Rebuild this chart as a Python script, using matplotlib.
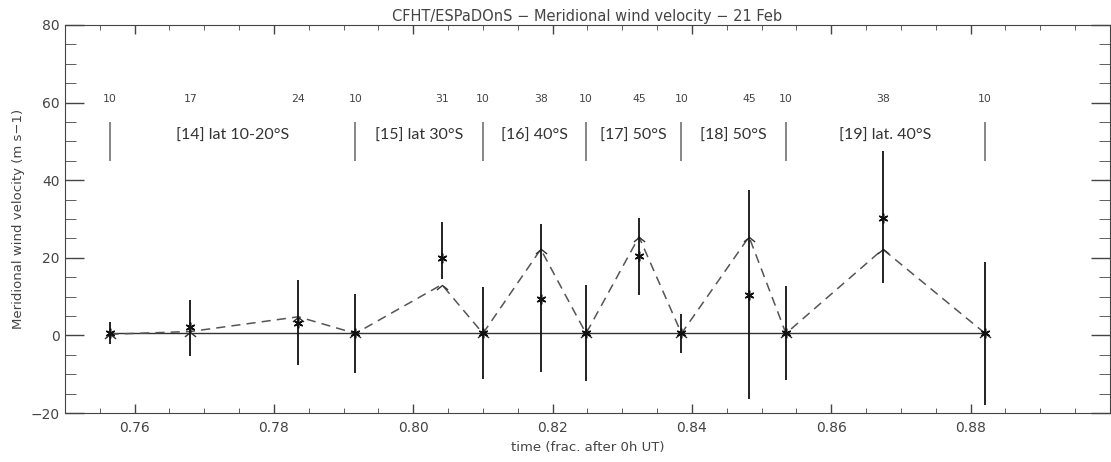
import numpy as np
import matplotlib.pyplot as plt
from matplotlib.ticker import MultipleLocator

# observation times (fraction of day after 0h UT)
t = [0.7564, 0.7680, 0.7835, 0.7917, 0.8041, 0.8100, 0.8183,
     0.8248, 0.8324, 0.8385, 0.8482, 0.8535, 0.8674, 0.8821]
# measured meridional wind and error bar ends
obs = [0.5, 2.1, 3.3, 0.5, 20.0, 0.5, 9.5, 0.5, 20.4, 0.5, 10.3, 0.5, 30.3, 0.5]
bar_lo = [-2.3, -5.2, -7.7, -9.8, 14.6, -11.2, -9.5, -11.8, 10.3, -4.6, -16.3, -11.5, 13.6, -18.0]
bar_hi = [3.4, 9.0, 14.3, 10.7, 29.3, 12.5, 28.6, 13.0, 30.3, 5.4, 37.5, 12.7, 47.5, 19.0]
# model (dashed)
model = [0.3, 1.0, 4.8, 0.5, 13.1, 0.5, 22.2, 0.5, 25.4, 0.5, 25.4, 0.5, 22.2, 0.5]
# numbers written above each point
nums = ['10', '17', '24', '10', '31', '10', '38', '10', '45', '10', '45', '10', '38', '10']
# sequence separators and names
sep_idx = [0, 3, 5, 7, 9, 11, 13]
regions = ['[14] lat 10-20°S', '[15] lat 30°S', '[16] 40°S', '[17] 50°S',
           '[18] 50°S', '[19] lat. 40°S']
base = 0.5

fig = plt.figure(figsize=(11.11, 4.62), dpi=100)
ax = fig.add_axes([0.0585, 0.106, 0.9405, 0.84])

txt = '#444444'
ax.hlines(base, t[0], t[-1], color='#333333', lw=1.0)
ax.plot(t, model, color='#555555', lw=1.1, dashes=(6, 4))
caret = [(-1, -0.8), (0, 0), (1, -0.8)]
ax.plot(t, model, ls='none', marker=caret, ms=8, mfc='none', mec='#333333', mew=1.0)

lo = np.array(obs) - np.array(bar_lo)
hi = np.array(bar_hi) - np.array(obs)
ax.errorbar(t, obs, yerr=[lo, hi], fmt='none', ecolor='#111111', elinewidth=1.3, capsize=0)
ax.plot(t, obs, ls='none', marker=(6, 2, 0), ms=7, mec='#111111', mew=1.1)

for x, n in zip(t, nums):
    ax.text(x, 61, n, ha='center', va='center', fontsize=7.8, color=txt)
seps = [t[i] for i in sep_idx]
ax.vlines(seps, 45, 55, color='#666666', lw=1.1)
for k, r in enumerate(regions):
    ax.text((seps[k] + seps[k + 1]) / 2, 51.5, r, ha='center', va='center',
            fontsize=11.5, family='Lato', color='#333333')

ax.set_xlim(0.75, 0.90)
ax.set_ylim(-20, 80)
ax.xaxis.set_major_locator(MultipleLocator(0.02))
ax.xaxis.set_minor_locator(MultipleLocator(0.005))
ax.yaxis.set_major_locator(MultipleLocator(20))
ax.yaxis.set_minor_locator(MultipleLocator(5))
ax.set_xticks([0.76, 0.78, 0.80, 0.82, 0.84, 0.86, 0.88])
ax.set_xticklabels(['0.76', '0.78', '0.80', '0.82', '0.84', '0.86', '0.88'])
ax.tick_params(axis='x', which='major', direction='in', length=6.5, top=True, width=1,
               color='#444444', labelsize=10, labelcolor=txt, pad=6)
ax.tick_params(axis='x', which='minor', direction='in', length=3.5, top=True, color='#444444')
ax.tick_params(axis='y', which='major', direction='in', length=14, right=True, width=1,
               color='#444444', labelsize=10, labelcolor=txt, pad=4)
ax.tick_params(axis='y', which='minor', direction='in', length=8, right=True, color='#444444')
for s in ax.spines.values():
    s.set_color('#444444')

ax.set_title('CFHT/ESPaDOnS − Meridional wind velocity − 21 Feb', fontsize=10.5, color=txt, pad=3)
ax.set_xlabel('time (frac. after 0h UT)', fontsize=9.5, color=txt, labelpad=4)
ax.set_ylabel('Meridional wind velocity (m s−1)', fontsize=9.5, color=txt, labelpad=4)

fig.savefig('out.png', dpi=100)
